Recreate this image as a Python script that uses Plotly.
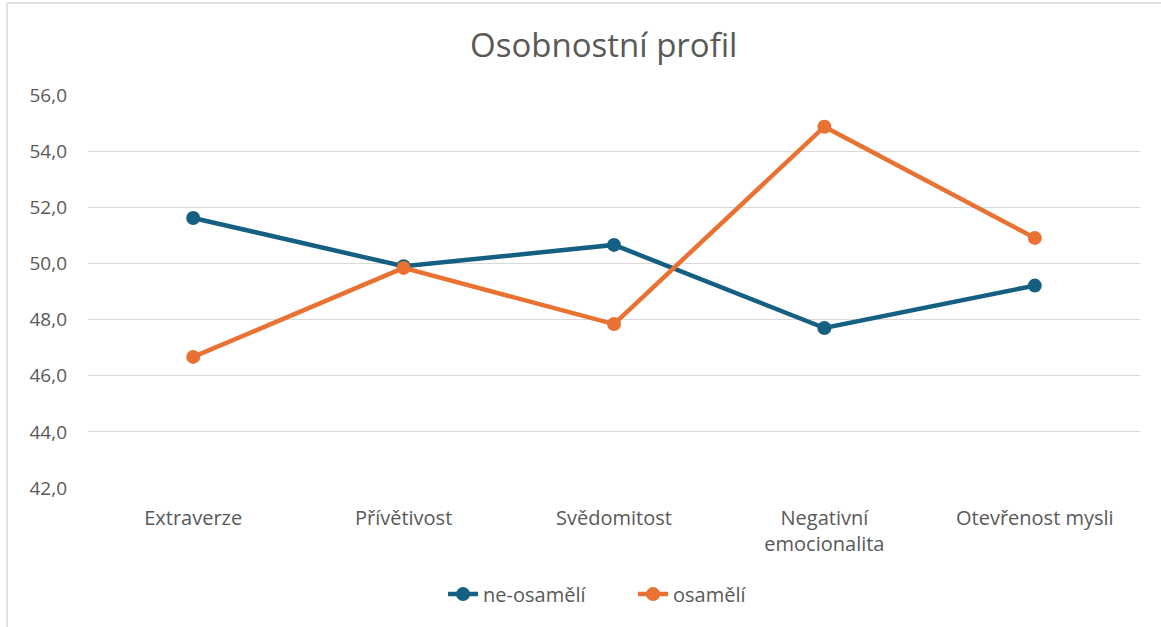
import plotly.graph_objects as go

categories = ["Extraverze", "Přívětivost", "Svědomitost", "Negativní<br>emocionalita", "Otevřenost mysli"]
ne_osameli = [51.62, 49.90, 50.66, 47.70, 49.21]
osameli = [46.67, 49.84, 47.84, 54.87, 50.91]
y_ticks = [42, 44, 46, 48, 50, 52, 54, 56]
y_tick_labels = ["42,0", "44,0", "46,0", "48,0", "50,0", "52,0", "54,0", "56,0"]

BLUE = "#156082"
ORANGE = "#E97132"
TEXT = "#595959"
FONT = "Open Sans"

fig = go.Figure()
fig.add_trace(go.Scatter(x=categories, y=ne_osameli, name="ne-osamělí", mode="lines+markers",
                         line=dict(color=BLUE, width=4.5), marker=dict(size=14, color=BLUE)))
fig.add_trace(go.Scatter(x=categories, y=osameli, name="osamělí", mode="lines+markers",
                         line=dict(color=ORANGE, width=4.5), marker=dict(size=14, color=ORANGE)))

fig.update_layout(
    width=1161, height=627,
    margin=dict(l=88, r=21, t=95, b=139),
    paper_bgcolor="white", plot_bgcolor="white",
    font=dict(family=FONT, color=TEXT, size=18),
    title=dict(text="Osobnostní profil", x=0.52, xanchor="center", y=0.928, yanchor="middle",
               font=dict(size=33, color=TEXT, family=FONT)),
    showlegend=True,
    legend=dict(orientation="h", x=0.3375, xanchor="left", y=-0.27, yanchor="middle",
                font=dict(size=20, color=TEXT), itemwidth=30, entrywidth=145),
    xaxis=dict(showgrid=False, showline=False, zeroline=False, ticks="",
               range=[-0.5, 4.5], tickfont=dict(size=20, color=TEXT), ticklabelstandoff=16),
    yaxis=dict(range=[42, 56], tickvals=y_ticks, ticktext=y_tick_labels,
               showgrid=True, gridcolor="#D9D9D9", gridwidth=1.3, zeroline=False, showline=False,
               ticks="", tickfont=dict(size=19, color=TEXT), ticklabelstandoff=20),
    shapes=[dict(type="rect", xref="paper", yref="paper", x0=-0.077, x1=1.2, y0=-0.5, y1=1.234,
                 line=dict(color="#D9D9D9", width=1.5), fillcolor="rgba(0,0,0,0)", layer="below")],
)

fig.write_html("out.html", config={"displayModeBar": False},
               post_script="document.body.style.margin='0';document.body.style.overflow='hidden';")
